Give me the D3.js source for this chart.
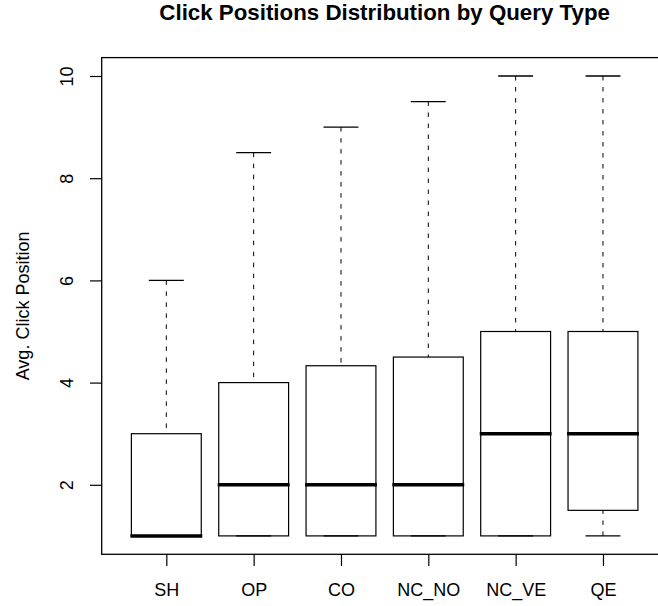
<!DOCTYPE html>
<html>
<head>
<meta charset="utf-8">
<script src="https://cdn.jsdelivr.net/npm/d3@7"></script>
<style>
  body { margin: 0; background: #fff; }
  svg { display: block; font-family: "Liberation Sans", Arial, Helvetica, sans-serif; }
</style>
</head>
<body>
<script>
// query types and their box stats
var categories = ["SH", "OP", "CO", "NC_NO", "NC_VE", "QE"];
var lowerWhisker = [1, 1, 1, 1, 1, 1];
var q1 = [1, 1, 1, 1, 1, 1.5];
var medians = [1, 2, 2, 2, 3, 3];
var q3 = [3, 4, 4.33, 4.5, 5, 5];
var upperWhisker = [6, 8.5, 9, 9.5, 10, 10];
var yTicks = [2, 4, 6, 8, 10];

var stats = categories.map(function(c, i) {
  return {name: c, i: i + 1, lo: lowerWhisker[i], q1: q1[i], med: medians[i], q3: q3[i], hi: upperWhisker[i]};
});

var width = 658, height = 606,
    margin = {top: 57.6, left: 101.7, bottom: 554.3, right: 667.6};

var svg = d3.select("body").append("svg")
    .attr("width", width)
    .attr("height", height);

// R style: 4% padding round the data range
var x = d3.scaleLinear()
    .domain([0.26, 6.74])
    .range([margin.left, margin.right]);

var y = d3.scaleLinear()
    .domain([0.64, 10.36])
    .range([margin.bottom, margin.top]);

var boxW = (x(2) - x(1)) * 0.8;
var stapleW = boxW / 2;

// title
svg.append("text")
    .attr("x", (margin.left + margin.right) / 2)
    .attr("y", 20)
    .attr("text-anchor", "middle")
    .attr("font-size", 22.3)
    .attr("font-weight", "bold")
    .text("Click Positions Distribution by Query Type");

var g = svg.append("g");

var box = g.selectAll(".box")
    .data(stats)
  .enter().append("g")
    .attr("class", "box");

// whiskers (dashed), drawn from the ends toward the box
box.append("line")
    .attr("x1", function(d) { return x(d.i); })
    .attr("x2", function(d) { return x(d.i); })
    .attr("y1", function(d) { return y(d.hi); })
    .attr("y2", function(d) { return y(d.q3); })
    .attr("stroke", "#000")
    .attr("stroke-width", 1)
    .attr("stroke-dasharray", "4.5,6.5");

box.filter(function(d) { return d.lo < d.q1; }).append("line")
    .attr("x1", function(d) { return x(d.i); })
    .attr("x2", function(d) { return x(d.i); })
    .attr("y1", function(d) { return y(d.lo); })
    .attr("y2", function(d) { return y(d.q1); })
    .attr("stroke", "#000")
    .attr("stroke-width", 1)
    .attr("stroke-dasharray", "4.5,6.5");

// staples
box.selectAll(".staple")
    .data(function(d) { return [{i: d.i, v: d.hi}, {i: d.i, v: d.lo}]; })
  .enter().append("line")
    .attr("class", "staple")
    .attr("x1", function(d) { return x(d.i) - stapleW / 2; })
    .attr("x2", function(d) { return x(d.i) + stapleW / 2; })
    .attr("y1", function(d) { return y(d.v); })
    .attr("y2", function(d) { return y(d.v); })
    .attr("stroke", "#000")
    .attr("stroke-width", 1.3);

box.append("rect")
    .attr("x", function(d) { return x(d.i) - boxW / 2; })
    .attr("y", function(d) { return y(d.q3); })
    .attr("width", boxW)
    .attr("height", function(d) { return y(d.q1) - y(d.q3); })
    .attr("fill", "none")
    .attr("stroke", "#000")
    .attr("stroke-width", 1.2);

box.append("line")
    .attr("x1", function(d) { return x(d.i) - boxW / 2 - 1; })
    .attr("x2", function(d) { return x(d.i) + boxW / 2 + 1; })
    .attr("y1", function(d) { return y(d.med); })
    .attr("y2", function(d) { return y(d.med); })
    .attr("stroke", "#000")
    .attr("stroke-width", 3.5);

// frame
svg.append("rect")
    .attr("x", margin.left)
    .attr("y", margin.top)
    .attr("width", margin.right - margin.left)
    .attr("height", margin.bottom - margin.top)
    .attr("fill", "none")
    .attr("stroke", "#000")
    .attr("stroke-width", 1.3);

// y axis
var yAxis = svg.append("g")
    .attr("transform", "translate(" + margin.left + ",0)")
    .call(d3.axisLeft(y).tickValues(yTicks).tickSize(11.7).tickFormat(d3.format("d")));
yAxis.select(".domain").remove();
yAxis.selectAll("line").attr("stroke", "#000").attr("stroke-width", 1.2);
yAxis.selectAll("text")
    .attr("transform", "rotate(-90)")
    .attr("x", 0)
    .attr("y", -28.4)
    .attr("dy", 0)
    .attr("text-anchor", "middle")
    .attr("fill", "#000")
    .attr("font-size", 18)
    .attr("font-family", "Liberation Sans, Arial, sans-serif");

// x axis
var xAxis = svg.append("g")
    .attr("transform", "translate(0," + margin.bottom + ")")
    .call(d3.axisBottom(x).tickValues(d3.range(1, categories.length + 1))
      .tickSize(11.7)
      .tickFormat(function(d) { return categories[d - 1]; }));
xAxis.select(".domain").remove();
xAxis.selectAll("line").attr("stroke", "#000").attr("stroke-width", 1.2);
xAxis.selectAll("text")
    .attr("y", 41.4)
    .attr("dy", 0)
    .attr("fill", "#000")
    .attr("font-size", 18)
    .attr("font-family", "Liberation Sans, Arial, sans-serif");

// y label
svg.append("text")
    .attr("transform", "translate(28.5," + (margin.top + margin.bottom) / 2 + ") rotate(-90)")
    .attr("text-anchor", "middle")
    .attr("font-size", 18)
    .text("Avg. Click Position");
</script>
</body>
</html>
